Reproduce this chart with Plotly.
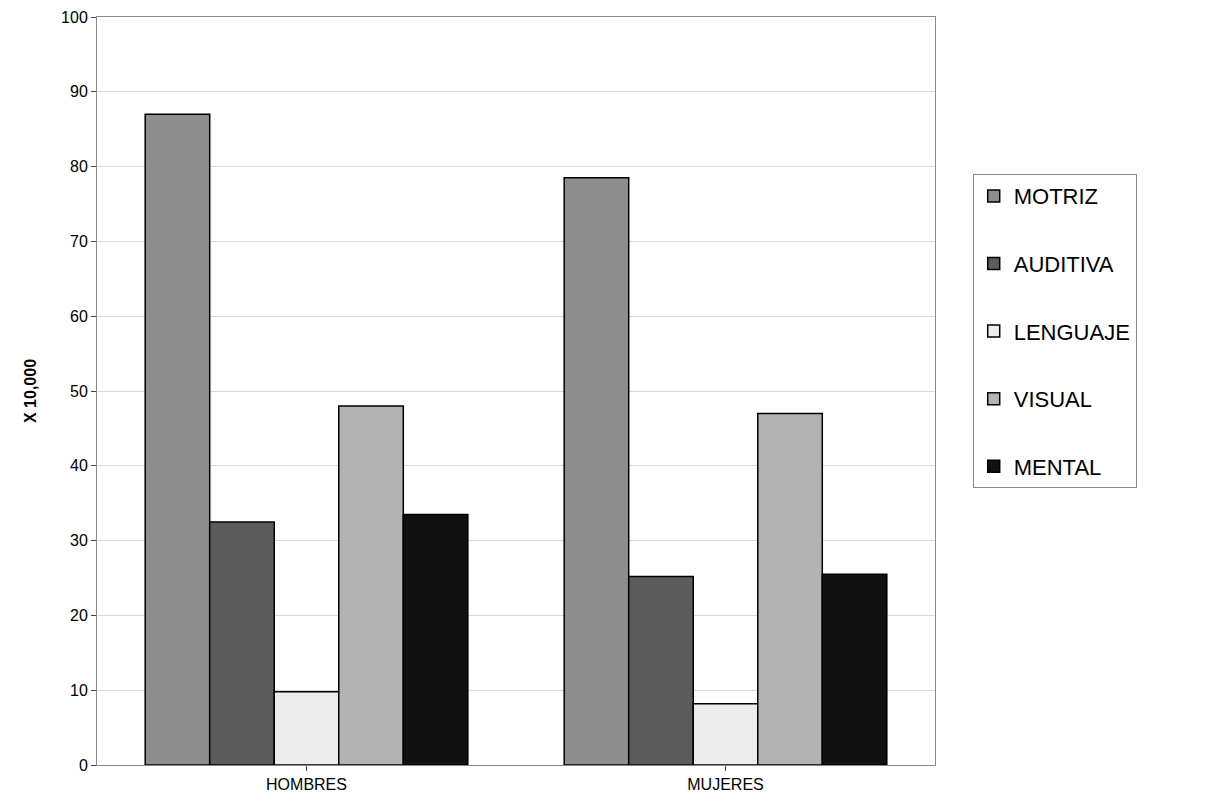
import plotly.graph_objects as go

categorias = ["HOMBRES", "MUJERES"]
series = ["MOTRIZ", "AUDITIVA", "LENGUAJE", "VISUAL", "MENTAL"]
valores = {
    "MOTRIZ": [87, 78.5],
    "AUDITIVA": [32.5, 25.2],
    "LENGUAJE": [9.8, 8.2],
    "VISUAL": [48, 47],
    "MENTAL": [33.5, 25.5],
}
colores = ["#8e8e8e", "#5c5c5c", "#ececec", "#b3b3b3", "#111111"]

fig = go.Figure()
for s, c in zip(series, colores):
    fig.add_trace(go.Bar(name=s, x=categorias, y=valores[s], marker_color=c,
                         marker_line_color="#000", marker_line_width=1.5,
                         legendgroup=s))

fig.update_layout(
    barmode="group", bargap=0.23, bargroupgap=0,
    width=1208, height=812, plot_bgcolor="white", paper_bgcolor="white",
    margin=dict(l=89, r=281, t=9, b=55, autoexpand=False),
    font=dict(family="Arial, Liberation Sans", size=16, color="#000"),
    legend=dict(x=1.045, y=0.79, yanchor="top", bordercolor="#888", borderwidth=1,
                font=dict(size=22), tracegroupgap=36, itemwidth=30),
)
fig.update_yaxes(range=[0, 100], dtick=10, showgrid=True, gridcolor="#d8d8d8",
                 showline=True, linecolor="#888", mirror=True, ticks="outside",
                 automargin=False,
                 title=dict(text="<b>X 10,000</b>", font=dict(size=16), standoff=20))
fig.update_xaxes(showline=True, linecolor="#888", mirror=True, ticks="outside",
                 automargin=False)
fig.write_html("out.html")
